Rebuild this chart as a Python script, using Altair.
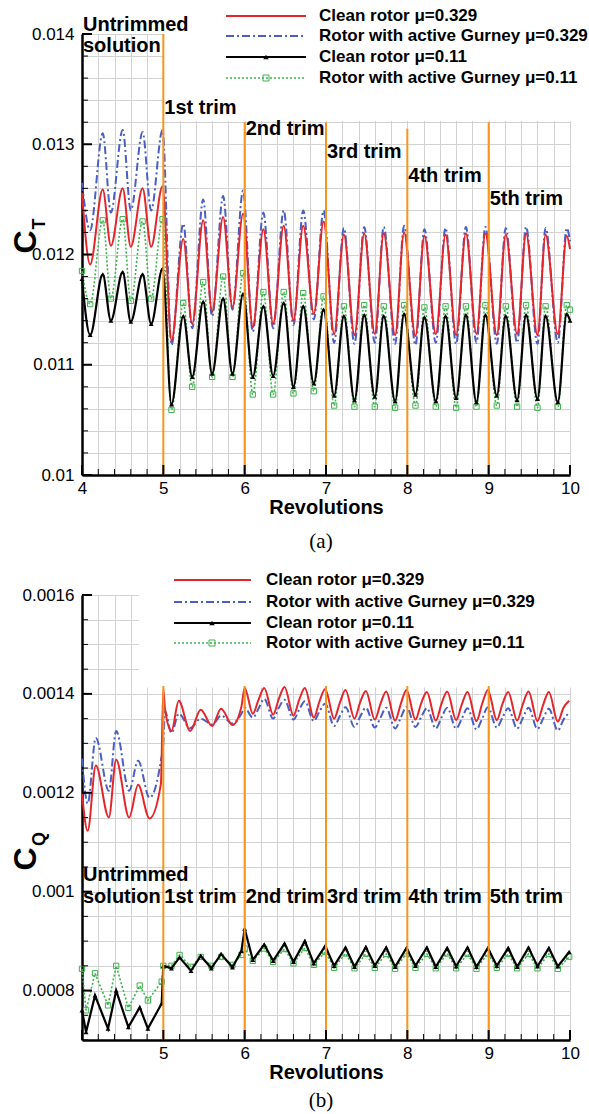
import altair as alt
import pandas as pd

FONT = "Liberation Sans"
SERIF = "Liberation Serif"
RED = "#e3262b"
BLUE = "#4a5ec4"
BLACK = "#000000"
GREEN = "#3cb44b"
ORANGE = "#f7941d"
GRID = "#d2d2d2"

W = 488
H_TOP = 441
H_BOT = 445
GAP = 120

# ---------------- data ----------------
# (a) thrust coefficient C_T : extrema of each oscillation
TOP_X = [4.00, 4.10, 4.255, 4.355, 4.50, 4.60, 4.745, 4.85, 4.99,
         5.10, 5.245, 5.355, 5.49, 5.60, 5.735, 5.85, 5.98,
         6.10, 6.23, 6.35, 6.48, 6.60, 6.72, 6.85, 6.97,
         7.10, 7.22, 7.35, 7.47, 7.60, 7.71, 7.85, 7.96,
         8.10, 8.21, 8.35, 8.47, 8.60, 8.72, 8.85, 8.96,
         9.10, 9.21, 9.35, 9.46, 9.60, 9.70, 9.85, 9.96, 10.0]
TOP_RED = [0.01256, 0.01191, 0.01259, 0.01208, 0.01260, 0.01207, 0.01260, 0.01207, 0.01262,
           0.01122, 0.01214, 0.01137, 0.01231, 0.01148, 0.01234, 0.01152, 0.01237,
           0.01134, 0.01223, 0.01137, 0.01226, 0.01140, 0.01226, 0.01146, 0.01230,
           0.01128, 0.01218, 0.01127, 0.01219, 0.01128, 0.01219, 0.01127, 0.01220,
           0.01126, 0.01217, 0.01128, 0.01218, 0.01127, 0.01219, 0.01128, 0.01219,
           0.01127, 0.01218, 0.01128, 0.01219, 0.01127, 0.01218, 0.01128, 0.01217, 0.01205]
TOP_BLUE = [0.01265, 0.01222, 0.01310, 0.01238, 0.01313, 0.01240, 0.01311, 0.01240, 0.01313,
            0.01118, 0.01228, 0.01133, 0.01250, 0.01144, 0.01253, 0.01150, 0.01258,
            0.01130, 0.01238, 0.01133, 0.01240, 0.01136, 0.01240, 0.01141, 0.01240,
            0.01120, 0.01224, 0.01119, 0.01225, 0.01120, 0.01225, 0.01119, 0.01226,
            0.01118, 0.01223, 0.01120, 0.01224, 0.01119, 0.01225, 0.01120, 0.01225,
            0.01119, 0.01224, 0.01120, 0.01225, 0.01119, 0.01224, 0.01120, 0.01224, 0.01212]
TOP_BLACK = [0.01178, 0.01127, 0.01182, 0.01140, 0.01184, 0.01139, 0.01182, 0.01137, 0.01187,
             0.01064, 0.01144, 0.01089, 0.01157, 0.01092, 0.01160, 0.01092, 0.01164,
             0.01089, 0.01153, 0.01090, 0.01156, 0.01080, 0.01153, 0.01083, 0.01150,
             0.01072, 0.01144, 0.01068, 0.01145, 0.01071, 0.01144, 0.01067, 0.01146,
             0.01073, 0.01143, 0.01067, 0.01144, 0.01070, 0.01145, 0.01066, 0.01145,
             0.01072, 0.01144, 0.01068, 0.01145, 0.01069, 0.01144, 0.01066, 0.01146, 0.01140]
TOP_GREEN = [0.01185, 0.01155, 0.01231, 0.01160, 0.01232, 0.01158, 0.01230, 0.01160, 0.01232,
             0.01059, 0.01156, 0.01080, 0.01175, 0.01089, 0.01180, 0.01089, 0.01183,
             0.01073, 0.01166, 0.01073, 0.01166, 0.01074, 0.01165, 0.01076, 0.01162,
             0.01063, 0.01153, 0.01062, 0.01154, 0.01062, 0.01153, 0.01061, 0.01154,
             0.01063, 0.01152, 0.01062, 0.01153, 0.01061, 0.01153, 0.01062, 0.01154,
             0.01063, 0.01153, 0.01062, 0.01154, 0.01061, 0.01153, 0.01062, 0.01154, 0.01150]

# (b) torque coefficient C_Q
BOT_X_RB = [4.00, 4.07, 4.17, 4.33, 4.42, 4.58, 4.69, 4.83, 4.97, 5.00, 5.02,
            5.10, 5.19, 5.33, 5.46, 5.60, 5.71, 5.85, 5.96, 6.00,
            6.10, 6.17, 6.24, 6.35, 6.42, 6.49, 6.60, 6.67, 6.74, 6.85, 6.92, 6.99,
            7.10, 7.17, 7.24, 7.35, 7.42, 7.49, 7.60, 7.67, 7.74, 7.85, 7.92, 7.99,
            8.10, 8.17, 8.24, 8.35, 8.42, 8.49, 8.60, 8.67, 8.74, 8.85, 8.92, 8.99,
            9.10, 9.17, 9.24, 9.35, 9.42, 9.49, 9.60, 9.67, 9.74, 9.85, 9.92, 9.99]
BOT_RED = [0.001198, 0.001123, 0.001255, 0.001150, 0.001267, 0.001150, 0.001216, 0.001148, 0.001218, 0.001410, 0.001370,
           0.001325, 0.001386, 0.001325, 0.001368, 0.001335, 0.001370, 0.001337, 0.001374, 0.001412,
           0.001360, 0.001388, 0.001412, 0.001358, 0.001390, 0.001414, 0.001356, 0.001388, 0.001412, 0.001352, 0.001385, 0.001410,
           0.001350, 0.001382, 0.001408, 0.001350, 0.001383, 0.001406, 0.001348, 0.001380, 0.001405, 0.001346, 0.001380, 0.001408,
           0.001348, 0.001381, 0.001404, 0.001346, 0.001380, 0.001405, 0.001347, 0.001379, 0.001404, 0.001345, 0.001380, 0.001408,
           0.001347, 0.001380, 0.001404, 0.001346, 0.001379, 0.001405, 0.001345, 0.001378, 0.001404, 0.001344, 0.001372, 0.001386]
BOT_BLUE = [0.001269, 0.001178, 0.001311, 0.001204, 0.001325, 0.001204, 0.001265, 0.001190, 0.001265, 0.001300, 0.001365,
            0.001321, 0.001360, 0.001331, 0.001350, 0.001338, 0.001356, 0.001340, 0.001360, 0.001372,
            0.001352, 0.001370, 0.001390, 0.001350, 0.001372, 0.001388, 0.001348, 0.001368, 0.001385, 0.001345, 0.001365, 0.001380,
            0.001335, 0.001355, 0.001373, 0.001333, 0.001354, 0.001372, 0.001332, 0.001352, 0.001372, 0.001330, 0.001352, 0.001374,
            0.001333, 0.001353, 0.001371, 0.001330, 0.001352, 0.001372, 0.001330, 0.001350, 0.001371, 0.001328, 0.001350, 0.001373,
            0.001332, 0.001352, 0.001371, 0.001330, 0.001351, 0.001372, 0.001329, 0.001350, 0.001370, 0.001326, 0.001348, 0.001362]
BOT_X_BG = [4.00, 4.05, 4.16, 4.32, 4.42, 4.57, 4.71, 4.81, 4.98, 5.00,
            5.10, 5.20, 5.34, 5.46, 5.59, 5.71, 5.85, 5.96, 6.00,
            6.10, 6.24, 6.35, 6.49, 6.60, 6.74, 6.85, 6.99,
            7.10, 7.24, 7.35, 7.49, 7.60, 7.74, 7.85, 7.99,
            8.10, 8.24, 8.35, 8.49, 8.60, 8.74, 8.85, 8.99,
            9.10, 9.24, 9.35, 9.49, 9.60, 9.74, 9.85, 9.99]
BOT_BLACK = [0.000760, 0.000716, 0.000790, 0.000723, 0.000800, 0.000726, 0.000766, 0.000723, 0.000774, 0.000850,
             0.000845, 0.000867, 0.000840, 0.000870, 0.000845, 0.000874, 0.000847, 0.000880, 0.000925,
             0.000862, 0.000893, 0.000860, 0.000895, 0.000858, 0.000900, 0.000855, 0.000890,
             0.000850, 0.000887, 0.000848, 0.000888, 0.000850, 0.000887, 0.000848, 0.000886,
             0.000850, 0.000887, 0.000848, 0.000886, 0.000849, 0.000887, 0.000848, 0.000886,
             0.000850, 0.000886, 0.000848, 0.000887, 0.000849, 0.000886, 0.000849, 0.000878]
BOT_GREEN = [0.000844, 0.000760, 0.000835, 0.000770, 0.000850, 0.000765, 0.000810, 0.000780, 0.000818, 0.000850,
             0.000850, 0.000872, 0.000848, 0.000868, 0.000850, 0.000868, 0.000852, 0.000872, 0.000885,
             0.000860, 0.000885, 0.000858, 0.000884, 0.000855, 0.000886, 0.000852, 0.000878,
             0.000846, 0.000875, 0.000845, 0.000874, 0.000846, 0.000874, 0.000844, 0.000875,
             0.000846, 0.000874, 0.000845, 0.000875, 0.000845, 0.000874, 0.000844, 0.000875,
             0.000846, 0.000874, 0.000845, 0.000874, 0.000845, 0.000874, 0.000844, 0.000868]

LEGEND_LABELS = ["Clean rotor \u03bc=0.329", "Rotor with active Gurney \u03bc=0.329",
                 "Clean rotor \u03bc=0.11", "Rotor with active Gurney \u03bc=0.11"]
TRIM_X = [5, 6, 7, 8, 9]
TOP_TRIM_TOP = [0.0140, 0.01320, 0.01320, 0.01314, 0.01320]
BOT_TRIM_TOP = [0.001416, 0.001416, 0.001416, 0.001416, 0.001416]
TRIM_LABELS = ["Untrimmed", "solution", "1st trim", "2nd trim", "3rd trim", "4th trim", "5th trim"]
TRIM_LABEL_X = [4, 4, 5, 6, 7, 8, 9]
TOP_LABEL_Y = [0.014027, 0.013836, 0.013273, 0.013082, 0.012873, 0.012655, 0.012445]
BOT_LABEL_Y = [0.001022, 0.000978, 0.000978, 0.000978, 0.000978, 0.000978, 0.000978]

X_GRID = [round(4 + 0.2 * i, 1) for i in range(31)]
X_MAJOR = [4, 5, 6, 7, 8, 9, 10]
YG_TOP = [round(0.010 + 0.0002 * i, 4) for i in range(21)]
YM_TOP = [0.010, 0.011, 0.012, 0.013, 0.014]
YG_BOT = [round(0.0007 + 0.00005 * i, 5) for i in range(19)]
YM_BOT = [0.0008, 0.0010, 0.0012, 0.0014, 0.0016]

ONE = pd.DataFrame({"k": [0]})


def axis_x(expr):
    return alt.Axis(values=X_GRID, labelExpr=expr, title="Revolutions", grid=True,
                    gridColor=GRID, gridWidth=1, ticks=False, tickSize=0,
                    domainColor="black", domainWidth=2.5, labelFont=FONT,
                    labelFontSize=17, labelColor="black", labelPadding=5,
                    labelFlush=False, labelOverlap=False, titleFont=FONT,
                    titleFontSize=20, titleFontWeight="bold", titleColor="black",
                    titlePadding=1)


def axis_y(values, expr):
    return alt.Axis(values=values, labelExpr=expr, title="", grid=True,
                    gridColor=GRID, gridWidth=1, ticks=False, tickSize=0,
                    domainColor="black", domainWidth=2.5, labelFont=FONT,
                    labelFontSize=17, labelColor="black", labelPadding=8,
                    labelOverlap=False, labelFlush=False)


def legend_layers(x1, x2, xm, xt, rows):
    styles = [
        dict(color=RED, strokeWidth=2),
        dict(color=BLUE, strokeWidth=2, strokeDash=[8, 3, 2, 3]),
        dict(color=BLACK, strokeWidth=2),
        dict(color=GREEN, strokeWidth=1.5, strokeDash=[2, 2]),
    ]
    out = []
    for i, lab in enumerate(LEGEND_LABELS):
        out.append(alt.Chart(ONE).mark_rule(**styles[i]).encode(
            x=alt.value(x1), x2=alt.value(x2), y=alt.value(rows[i])))
        if i == 2:
            out.append(alt.Chart(ONE).mark_point(shape="triangle-up", filled=True, color=BLACK,
                                                 size=30, opacity=1).encode(
                x=alt.value(xm), y=alt.value(rows[i])))
        if i == 3:
            out.append(alt.Chart(ONE).mark_point(shape="square", filled=False, color=GREEN,
                                                 size=36, opacity=1, strokeWidth=1).encode(
                x=alt.value(xm), y=alt.value(rows[i])))
        out.append(alt.Chart(ONE).mark_text(align="left", baseline="middle", font=FONT,
                                            fontSize=17, fontWeight="bold", color="black").encode(
            x=alt.value(xt), y=alt.value(rows[i]), text=alt.value(lab)))
    return out


def panel(h, ydom, ygrid, ymajor, yexpr, xexpr, box, xr, yr, yb, xg, yg, interp_bg,
          trim_top, label_y, leg, sub, sub_y, cap, cap_y):
    xs = alt.Scale(domain=[4, 10], nice=False, zero=False)
    ysc = alt.Scale(domain=ydom, nice=False, zero=False)
    ax = axis_x(xexpr)
    ay = axis_y(ygrid, yexpr)

    def X(f):
        return alt.X(f, type="quantitative", scale=xs, axis=ax)

    def Y(f):
        return alt.Y(f, type="quantitative", scale=ysc, axis=ay)

    layers = []
    boxdf = pd.DataFrame({"x": [box[0]], "x2": [10.05], "y": [box[1]], "y2": [ydom[1]]})
    layers.append(alt.Chart(boxdf).mark_rect(color="white").encode(
        x=X("x"), x2="x2", y=Y("y"), y2="y2"))

    blue = pd.DataFrame({"r": xr, "v": yb})
    red = pd.DataFrame({"r": xr, "v": yr})
    green = pd.DataFrame({"r": xg, "v": yg[1]})
    black = pd.DataFrame({"r": xg, "v": yg[0]})
    layers.append(alt.Chart(blue).mark_line(color=BLUE, strokeWidth=2, strokeDash=[8, 3, 2, 3],
                                            interpolate="monotone").encode(x=X("r"), y=Y("v")))
    layers.append(alt.Chart(red).mark_line(color=RED, strokeWidth=2,
                                           interpolate="monotone").encode(x=X("r"), y=Y("v")))
    layers.append(alt.Chart(green).mark_line(color=GREEN, strokeWidth=1.6, strokeDash=[2, 2],
                                             interpolate=interp_bg).encode(x=X("r"), y=Y("v")))
    layers.append(alt.Chart(green).mark_point(shape="square", filled=False, color=GREEN,
                                              size=28, opacity=1, strokeWidth=1).encode(
        x=X("r"), y=Y("v")))
    layers.append(alt.Chart(black).mark_line(color=BLACK, strokeWidth=2.2,
                                             interpolate=interp_bg).encode(x=X("r"), y=Y("v")))
    layers.append(alt.Chart(black).mark_point(shape="triangle-up", filled=True, color=BLACK,
                                              size=24, opacity=1).encode(x=X("r"), y=Y("v")))

    org = pd.DataFrame({"x": TRIM_X, "y": [ydom[0]] * 5, "y2": trim_top})
    layers.append(alt.Chart(org).mark_rule(color=ORANGE, strokeWidth=2).encode(
        x=X("x"), y=Y("y"), y2="y2"))

    # inward ticks
    ymin = pd.DataFrame({"v": [v for v in ygrid if all(abs(v - m) > 1e-9 for m in ymajor)]})
    ymaj = pd.DataFrame({"v": ymajor})
    xmin = pd.DataFrame({"v": [v for v in X_GRID if abs(v - round(v)) > 1e-6]})
    xmaj = pd.DataFrame({"v": X_MAJOR})
    layers.append(alt.Chart(ymin).mark_rule(color="black", strokeWidth=1).encode(
        y=Y("v"), x=alt.value(0), x2=alt.value(6)))
    layers.append(alt.Chart(ymaj).mark_rule(color="black", strokeWidth=2).encode(
        y=Y("v"), x=alt.value(0), x2=alt.value(10)))
    layers.append(alt.Chart(xmin).mark_rule(color="black", strokeWidth=1).encode(
        x=X("v"), y=alt.value(h), y2=alt.value(h - 6)))
    layers.append(alt.Chart(xmaj).mark_rule(color="black", strokeWidth=2).encode(
        x=X("v"), y=alt.value(h), y2=alt.value(h - 10)))

    lab = pd.DataFrame({"x": TRIM_LABEL_X, "y": label_y, "t": TRIM_LABELS})
    layers.append(alt.Chart(lab).mark_text(align="left", baseline="alphabetic", dx=1, font=FONT,
                                           fontSize=20, fontWeight="bold", color="black").encode(
        x=X("x"), y=Y("y"), text="t:N"))

    layers += legend_layers(*leg)

    # rotated axis title C_T / C_Q
    layers.append(alt.Chart(ONE).mark_text(angle=270, align="center", baseline="alphabetic",
                                           font=FONT, fontSize=32, fontWeight="bold",
                                           color="black").encode(
        x=alt.value(-46), y=alt.value(sub_y[0]), text=alt.value("C")))
    layers.append(alt.Chart(ONE).mark_text(angle=270, align="center", baseline="alphabetic",
                                           font=FONT, fontSize=18, fontWeight="bold",
                                           color="black").encode(
        x=alt.value(-37), y=alt.value(sub_y[1]), text=alt.value(sub)))
    layers.append(alt.Chart(ONE).mark_text(align="center", baseline="middle", font=SERIF,
                                           fontSize=21, color="black").encode(
        x=alt.value(239), y=alt.value(cap_y), text=alt.value(cap)))

    return alt.layer(*layers).properties(width=W, height=h)


top = panel(
    H_TOP, [0.010, 0.014], YG_TOP, YM_TOP,
    "abs(datum.value * 1000 - round(datum.value * 1000)) < 0.001 ? toString(datum.value) : ''",
    "abs(datum.value - round(datum.value)) < 0.001 ? toString(round(datum.value)) : ''",
    (5.0, 0.01321), TOP_X, TOP_RED, TOP_BLUE, TOP_X, (TOP_BLACK, TOP_GREEN), "monotone",
    TOP_TRIM_TOP, TOP_LABEL_Y, (144, 224, 184, 237, [-18, 2, 23, 44]),
    "T", (208, 190), "(a)", 508)

bot = panel(
    H_BOT, [0.0007, 0.0016], YG_BOT, YM_BOT,
    "abs(datum.value * 5000 - round(datum.value * 5000)) < 0.001 ? toString(datum.value) : ''",
    "abs(datum.value - round(datum.value)) < 0.001 && datum.value > 4.5 ? toString(round(datum.value)) : ''",
    (4.7, 0.001413), BOT_X_RB, BOT_RED, BOT_BLUE, BOT_X_BG, (BOT_BLACK, BOT_GREEN), "linear",
    BOT_TRIM_TOP, BOT_LABEL_Y, (92, 169, 130, 184, [-15, 7, 28, 48]),
    "Q", (264, 244), "(b)", 506)

chart = alt.vconcat(top, bot, spacing=GAP, bounds="flush").properties(
    padding={"left": 9, "top": 6, "right": 0, "bottom": 0}
).configure_view(stroke="transparent")

chart.save("out.html", embed_options={"renderer": "svg", "actions": False})
